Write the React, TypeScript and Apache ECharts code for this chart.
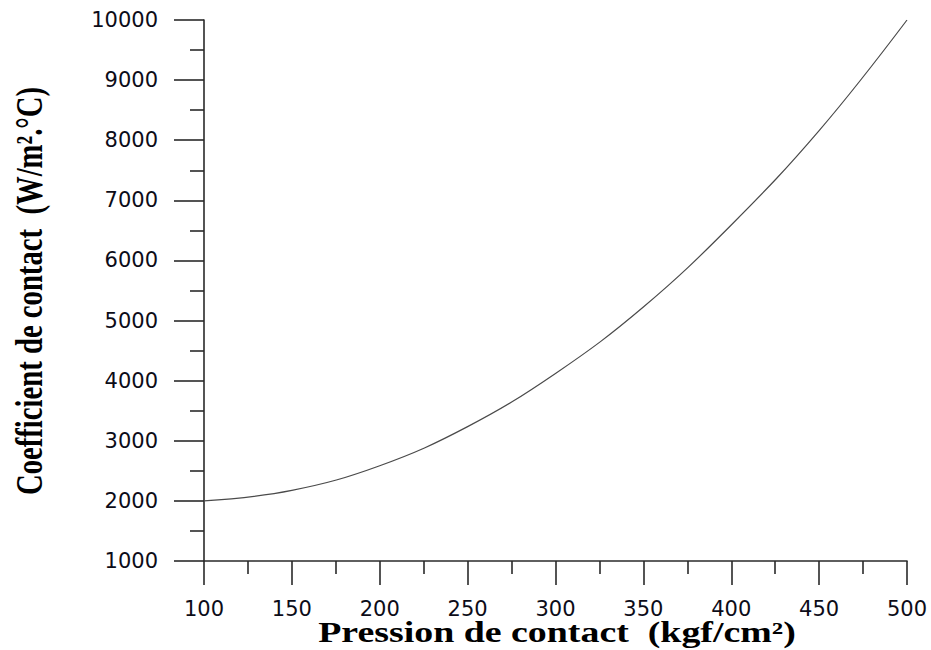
import React, { useEffect, useRef } from "react";
import * as echarts from "echarts";

const pressure = [100, 150, 200, 250, 300, 350, 400, 450, 500];
const coefficient = [2000, 2175, 2585, 3235, 4120, 5225, 6590, 8160, 10000];
const xTitle = "Pression de contact  (kgf/cm²)";
const yTitle = "Coefficient de contact  (W/m².°C)";

export default function App() {
  const ref = useRef<HTMLDivElement>(null);
  useEffect(() => {
    if (!ref.current) return;
    const chart = echarts.init(ref.current, undefined, { renderer: "svg" });
    const axisColor = "#2a2a2a";
    const labelStyle = {
      color: "#0c0c18",
      fontFamily: "DejaVu Sans",
      fontSize: 21,
      formatter: (v: number) => String(v),
    };
    chart.setOption({
      animation: false,
      backgroundColor: "#ffffff",
      grid: { left: 204, right: 24, top: 20, bottom: 89, containLabel: false },
      xAxis: {
        type: "value",
        min: 100,
        max: 500,
        interval: 50,
        axisLine: { show: true, lineStyle: { color: axisColor, width: 1.6 } },
        axisTick: { show: true, length: 24, lineStyle: { color: axisColor, width: 1.6 } },
        minorTick: { show: true, splitNumber: 2, length: 13, lineStyle: { color: axisColor, width: 1.6 } },
        splitLine: { show: false },
        minorSplitLine: { show: false },
        axisLabel: { ...labelStyle, margin: 37 },
      },
      yAxis: {
        type: "value",
        min: 1000,
        max: 10000,
        interval: 1000,
        axisLine: { show: true, lineStyle: { color: axisColor, width: 1.6 } },
        axisTick: { show: true, length: 30, lineStyle: { color: axisColor, width: 1.6 } },
        minorTick: { show: true, splitNumber: 2, length: 14, lineStyle: { color: axisColor, width: 1.6 } },
        splitLine: { show: false },
        minorSplitLine: { show: false },
        axisLabel: { ...labelStyle, margin: 46 },
      },
      graphic: [
        {
          type: "text",
          x: 557,
          y: 632,
          scaleX: 1.32,
          style: {
            text: xTitle,
            font: "bold 28.7px 'Liberation Serif'",
            fill: "#000",
            textAlign: "center",
            textVerticalAlign: "middle",
          },
        },
        {
          type: "text",
          x: 29,
          y: 291,
          rotation: Math.PI / 2,
          scaleY: 1.31,
          style: {
            text: yTitle,
            font: "bold 28.7px 'Liberation Serif'",
            fill: "#000",
            textAlign: "center",
            textVerticalAlign: "middle",
          },
        },
      ],
      series: [
        {
          type: "line",
          data: pressure.map((p, i) => [p, coefficient[i]]),
          smooth: 0.4,
          showSymbol: false,
          symbol: "none",
          lineStyle: { color: "#4a4a4a", width: 1.2 },
        },
      ],
    });
    return () => chart.dispose();
  }, []);
  return (
    <div
      ref={ref}
      style={{ position: "fixed", left: 0, top: 0, width: 931, height: 650, background: "#fff" }}
    />
  );
}
